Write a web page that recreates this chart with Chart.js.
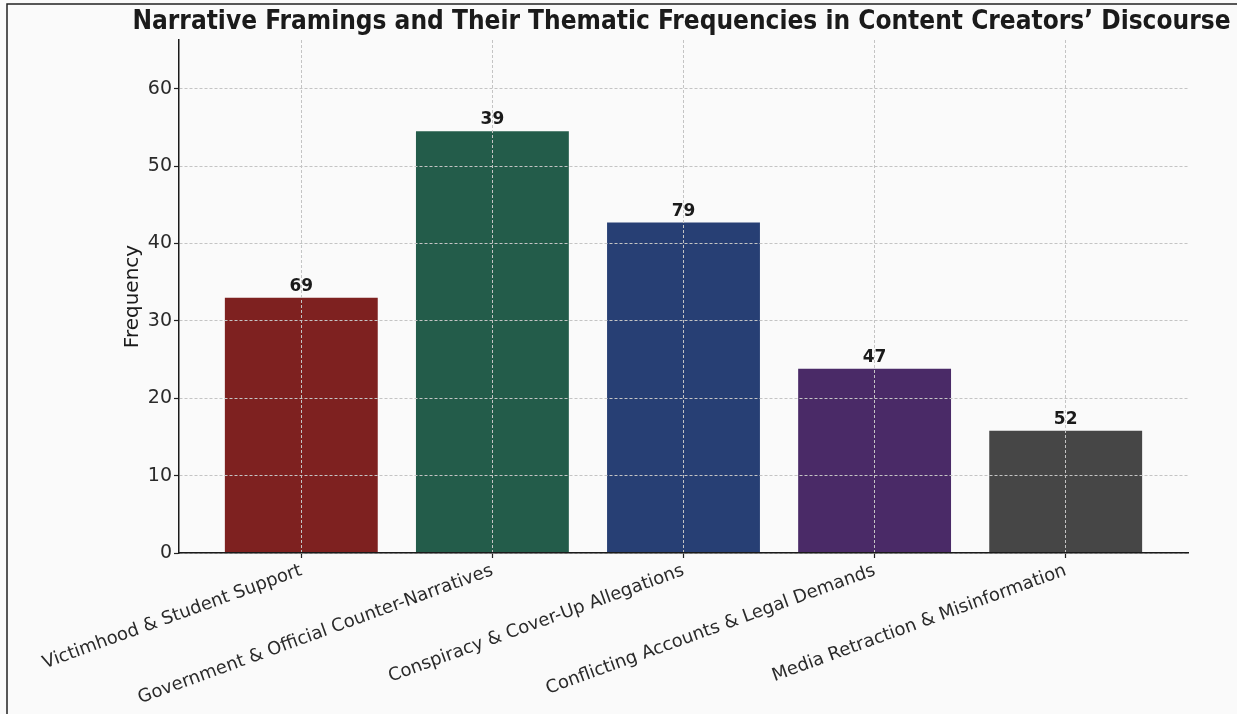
<!DOCTYPE html>
<html>
<head>
<meta charset="utf-8">
<script src="https://cdn.jsdelivr.net/npm/chart.js@4"></script>
<style>
  html, body { margin: 0; padding: 0; background: #fafafa; }
  canvas { display: block; }
</style>
</head>
<body>
<canvas id="c" width="1237" height="714"></canvas>
<script>
const chartTitle = "Narrative Framings and Their Thematic Frequencies in Content Creators’ Discourse";
const categories = [
  "Victimhood & Student Support",
  "Government & Official Counter-Narratives",
  "Conspiracy & Cover-Up Allegations",
  "Conflicting Accounts & Legal Demands",
  "Media Retraction & Misinformation"
];
const frequencies = [33, 54.5, 42.7, 23.8, 15.8];
const barLabels = ["69", "39", "79", "47", "52"];
const barColors = ["#7e2120", "#235c4a", "#273f74", "#4a2a67", "#464646"];
const yTicks = [0, 10, 20, 30, 40, 50, 60];
const yMax = 66.3;

const titlePlugin = {
  id: 'titleAndFrame',
  afterDraw(chart) {
    const ctx = chart.ctx;
    ctx.save();
    ctx.fillStyle = '#1a1a1a';
    ctx.font = 'bold 26px "DejaVu Sans Condensed", "DejaVu Sans"';
    ctx.textAlign = 'center';
    ctx.textBaseline = 'middle';
    const a = chart.chartArea;
    ctx.fillText(chartTitle, (a.left + a.right) / 2 - 2, 22);
    ctx.strokeStyle = '#222';
    ctx.lineWidth = 1.5;
    ctx.beginPath();
    ctx.moveTo(7, 714);
    ctx.lineTo(7, 4);
    ctx.lineTo(1237, 4);
    ctx.stroke();
    ctx.restore();
  }
};

const barLabelPlugin = {
  id: 'barLabels',
  afterDatasetsDraw(chart) {
    const ctx = chart.ctx;
    const meta = chart.getDatasetMeta(0);
    ctx.save();
    ctx.fillStyle = '#1a1a1a';
    ctx.font = 'bold 17px "DejaVu Sans"';
    ctx.textAlign = 'center';
    ctx.textBaseline = 'alphabetic';
    meta.data.forEach((bar, i) => {
      ctx.fillText(barLabels[i], bar.x, bar.y - 7);
    });
    ctx.restore();
  }
};

new Chart(document.getElementById('c'), {
  type: 'bar',
  data: {
    datasets: [{
      data: categories.map((c, i) => ({ x: i, y: frequencies[i] })),
      backgroundColor: barColors,
      borderWidth: 0,
      barPercentage: 0.8,
      categoryPercentage: 1.0
    }]
  },
  options: {
    responsive: false,
    animation: false,
    devicePixelRatio: 1,
    layout: { padding: { left: 117, right: 49, top: 40, bottom: 0 } },
    plugins: { legend: { display: false }, tooltip: { enabled: false }, title: { display: false } },
    scales: {
      x: {
        type: 'linear',
        offset: false,
        min: -0.64,
        max: 4.64,
        afterBuildTicks: (s) => { s.ticks = categories.map((c, i) => ({ value: i })); },
        afterFit: (s) => { s.height = 161; },
        grid: { offset: false, color: '#c4c4c4', lineWidth: 1, z: 1, drawTicks: true, tickLength: 5, tickColor: '#222', tickWidth: 1.2 },
        border: { display: true, color: '#1a1a1a', width: 1.5, dash: [3, 2], z: 2 },
        ticks: {
          autoSkip: false,
          minRotation: 20,
          maxRotation: 20,
          padding: 2,
          color: '#2a2a2a',
          font: { family: '"DejaVu Sans"', size: 18 },
          callback: (v) => categories[v] ?? ''
        }
      },
      y: {
        min: 0,
        max: yMax,
        afterBuildTicks: (s) => { s.ticks = yTicks.map(v => ({ value: v })); },
        afterFit: (s) => { s.width = 62; },
        grid: { color: '#c4c4c4', lineWidth: 1, z: 1, drawTicks: true, tickLength: 5, tickColor: '#222', tickWidth: 1.2 },
        border: { display: true, color: '#1a1a1a', width: 1.5, dash: [3, 2], z: 2 },
        ticks: {
          padding: 2,
          color: '#2a2a2a',
          font: { family: '"DejaVu Sans"', size: 19 }
        },
        title: {
          display: true,
          text: 'Frequency',
          color: '#1a1a1a',
          font: { family: '"DejaVu Sans"', size: 20 },
          padding: { top: 4, bottom: 4 }
        }
      }
    }
  },
  plugins: [barLabelPlugin, titlePlugin]
});
</script>
</body>
</html>
